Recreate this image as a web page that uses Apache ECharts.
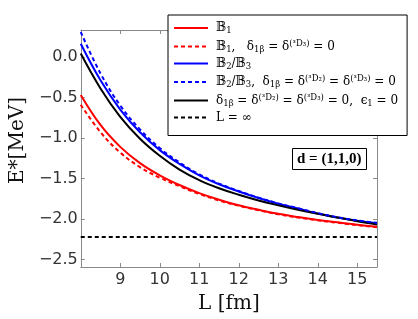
<!DOCTYPE html>
<html>
<head>
<meta charset="utf-8">
<script src="https://cdn.jsdelivr.net/npm/echarts@6/dist/echarts.min.js"></script>
<style>
html,body{margin:0;padding:0;background:#fff;}
#chart{width:418px;height:319px;}
</style>
</head>
<body>
<div id="chart"></div>
<script>
// ---- data ----
const L = [8, 8.5, 9, 9.5, 10, 10.5, 11, 11.5, 12, 12.5, 13, 13.5, 14, 14.5, 15, 15.5];
const redSolid  = [-0.47, -0.84, -1.11, -1.31, -1.46, -1.58, -1.68, -1.76, -1.83, -1.885, -1.935, -1.975, -2.01, -2.04, -2.07, -2.095];
const redDashed = [-0.59, -0.93, -1.18, -1.36, -1.49, -1.595, -1.69, -1.77, -1.835, -1.89, -1.94, -1.98, -2.015, -2.045, -2.075, -2.10];
const blueSolid = [0.16, -0.29, -0.65, -0.93, -1.15, -1.32, -1.46, -1.57, -1.66, -1.74, -1.81, -1.87, -1.93, -1.98, -2.02, -2.05];
const blueDashed= [0.305, -0.205, -0.60, -0.895, -1.125, -1.302, -1.448, -1.562, -1.654, -1.735, -1.806, -1.866, -1.926, -1.976, -2.016, -2.046];
const blackSolid= [0.04, -0.39, -0.74, -1.01, -1.22, -1.39, -1.52, -1.62, -1.70, -1.77, -1.83, -1.885, -1.935, -1.98, -2.025, -2.065];
const infX = [8, 15.5];
const infY = [-2.22, -2.22];
const xTicks = [9, 10, 11, 12, 13, 14, 15];
const yTicks = [-2.5, -2.0, -1.5, -1.0, -0.5, 0.0];
const seriesNames = ['B1', 'B1d', 'B23', 'B23d', 'delta0', 'Linf'];
const legendLabels = [
  '{t|𝔹}{s|1}',
  '{t|𝔹}{s|1}{t|,   δ}{s|1β}{t| = δ}{p|(³D₃)}{t| = 0}',
  '{t|𝔹}{s|2}{t|/𝔹}{s|3}',
  '{t|𝔹}{s|2}{t|/𝔹}{s|3}{t|,  δ}{s|1β}{t| = δ}{p|(³D₂)}{t| = δ}{p|(³D₃)}{t| = 0}',
  '{t|δ}{s|1β}{t| = δ}{p|(³D₂)}{t| = δ}{p|(³D₃)}{t| = 0,  ϵ}{s|1}{t| = 0}',
  '{t|L = ∞}'
];
const boxLabel = '{b|d}{t| = (1,1,0)}';

const pair = (xs, ys) => xs.map((x, i) => [x, ys[i]]);
const serif = "'DejaVu Serif', serif";
const richLegend = {
  t: {fontFamily: serif, fontSize: 12, color: '#000', lineHeight: 15, verticalAlign: 'middle'},
  s: {fontFamily: serif, fontSize: 8.5, color: '#000', lineHeight: 15, verticalAlign: 'bottom'},
  p: {fontFamily: serif, fontSize: 8.5, color: '#000', lineHeight: 15, verticalAlign: 'top'}
};
const gray = '#8a8a8a';
const fmt = v => (Math.abs(v) < 1e-9 ? '0.0' : v.toFixed(1)).replace('-', '\u2212');

const chart = echarts.init(document.getElementById('chart'), null, {renderer: 'canvas'});
const mk = (name, ys, color, dashed, xs) => ({
  name, type: 'line', data: pair(xs || L, ys), smooth: xs ? false : 0.4,
  symbol: 'none', showSymbol: false, z: dashed ? 3 : 2,
  lineStyle: {color, width: 2, type: dashed ? [4, 3] : 'solid'},
  itemStyle: {color}
});
const frameAxis = {
  axisLine: {show: true, onZero: false, lineStyle: {color: gray, width: 1}},
  splitLine: {show: false}
};
chart.setOption({
  animation: false,
  backgroundColor: '#fff',
  grid: {left: 68, right: 41, top: 30, bottom: 50},
  title: {
    text: boxLabel, left: 292, top: 148, padding: [4, 5, 3, 5],
    borderColor: '#000', borderWidth: 1, backgroundColor: '#fff',
    textStyle: {rich: {
      b: {fontFamily: "'Liberation Serif', serif", fontSize: 15, fontWeight: 'bold', color: '#000'},
      t: {fontFamily: "'Liberation Serif', serif", fontSize: 15, color: '#000'}
    }}
  },
  legend: {
    orient: 'vertical', left: 168, top: 15,
    data: seriesNames,
    itemWidth: 34, itemHeight: 12, itemGap: 3.5,
    padding: [7, 9, 12, 5],
    backgroundColor: '#fff', borderColor: '#000', borderWidth: 1,
    itemStyle: {opacity: 0},
    formatter: name => legendLabels[seriesNames.indexOf(name)],
    textStyle: {rich: richLegend, padding: [0, 0, 0, 3]}
  },
  xAxis: [Object.assign({
    type: 'value', min: 8, max: 15.5,
    name: 'L [fm]', nameLocation: 'middle', nameGap: 27,
    nameTextStyle: {fontFamily: serif, fontSize: 20, color: '#111'},
    axisTick: {inside: true, length: 4, customValues: xTicks, lineStyle: {color: gray}},
    axisLabel: {customValues: xTicks, margin: 5, fontFamily: "'DejaVu Sans'", fontSize: 16, color: '#333'}
  }, frameAxis), Object.assign({
    type: 'value', min: 8, max: 15.5, position: 'top',
    axisTick: {inside: true, length: 4, customValues: xTicks, lineStyle: {color: gray}},
    axisLabel: {show: false}
  }, frameAxis)],
  yAxis: [Object.assign({
    type: 'value', min: -2.59, max: 0.33,
    name: 'E*[MeV]', nameLocation: 'middle', nameGap: 47, nameRotate: 90,
    nameTextStyle: {fontFamily: serif, fontSize: 20, color: '#111', padding: [0, 0, 0, 16]},
    axisTick: {show: true, inside: true, length: 4, customValues: yTicks, lineStyle: {color: gray}},
    axisLabel: {customValues: yTicks, formatter: fmt, margin: 3, fontFamily: "'DejaVu Sans'", fontSize: 16, color: '#333'}
  }, frameAxis), Object.assign({
    type: 'value', min: -2.59, max: 0.33, position: 'right',
    axisTick: {show: true, inside: true, length: 4, customValues: yTicks, lineStyle: {color: gray}},
    axisLabel: {show: false}
  }, frameAxis)],
  series: [
    mk('B1', redSolid, '#ff0000', false),
    mk('B1d', redDashed, '#ff0000', true),
    mk('B23', blueSolid, '#0000ff', false),
    mk('B23d', blueDashed, '#0000ff', true),
    mk('delta0', blackSolid, '#000000', false),
    mk('Linf', infY, '#000000', true, infX)
  ]
});
</script>
</body>
</html>
